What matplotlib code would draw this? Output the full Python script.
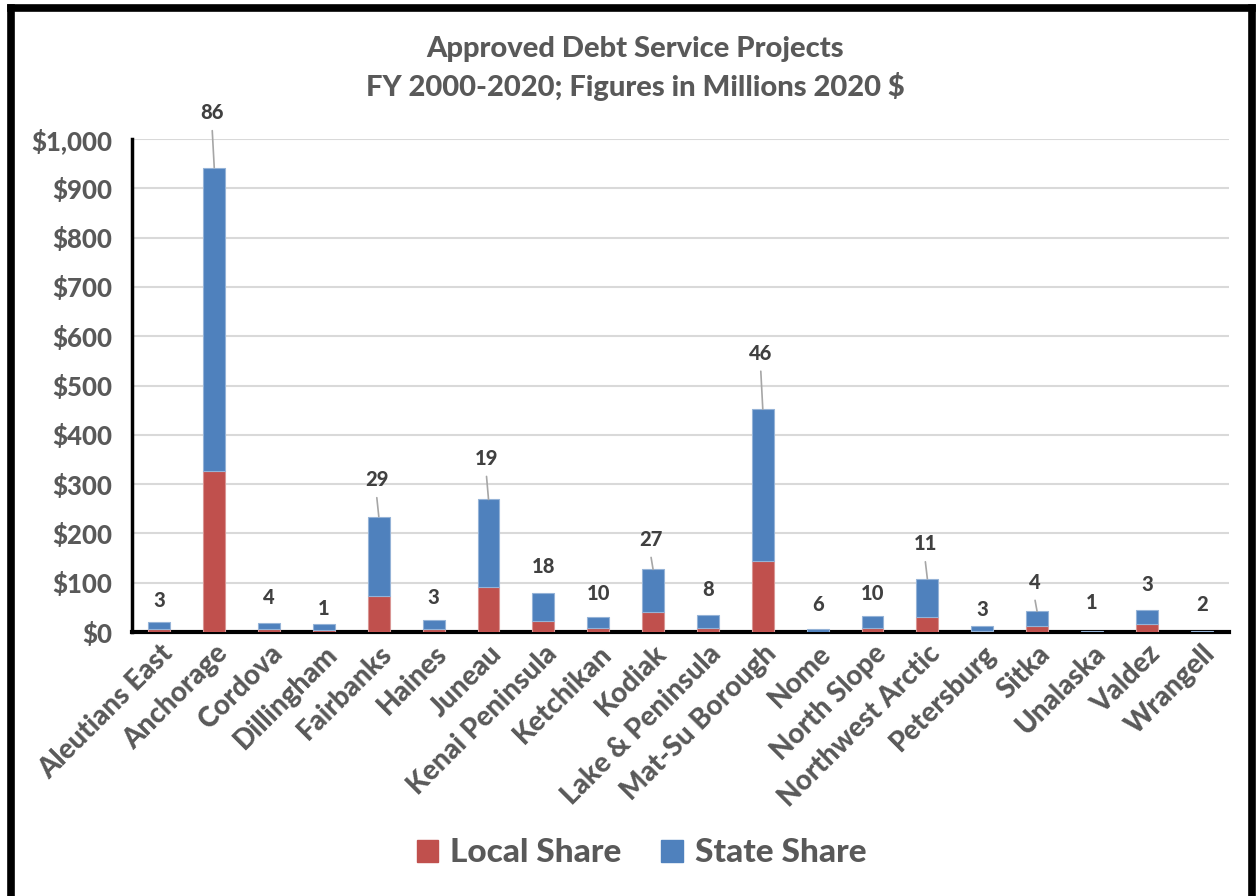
import matplotlib
matplotlib.use("Agg")
import matplotlib.pyplot as plt
from matplotlib.lines import Line2D
from matplotlib.patches import Patch

# approved debt service projects by district, millions of 2020 dollars
districts = ["Aleutians East", "Anchorage", "Cordova", "Dillingham", "Fairbanks",
             "Haines", "Juneau", "Kenai Peninsula", "Ketchikan", "Kodiak",
             "Lake & Peninsula", "Mat-Su Borough", "Nome", "North Slope",
             "Northwest Arctic", "Petersburg", "Sitka", "Unalaska", "Valdez", "Wrangell"]
local_share = [7, 326, 7, 4, 74, 6, 91, 23, 8, 40, 7.5, 144, 1, 9, 30, 3, 13, 0.5, 16, 0.5]
state_share = [13, 616, 12, 12.5, 160, 19, 178, 56, 23.5, 87, 26.5, 308, 5, 23, 78, 9, 29, 2.5, 29, 1.5]
project_counts = [3, 86, 4, 1, 29, 3, 19, 18, 10, 27, 8, 46, 6, 10, 11, 3, 4, 1, 3, 2]
y_ticks = [0, 100, 200, 300, 400, 500, 600, 700, 800, 900, 1000]

# how far each count label sits above its bar (pixels); taller lifts get a leader line
label_lift = [22, 55, 25, 15, 37, 22, 41, 27, 23, 30, 26, 56, 25, 23, 35, 17, 29, 28, 25, 27]

RED = "#C0504D"
BLUE = "#4F81BD"
GRAY = "#595959"
FONT = "Lato"

fig = plt.figure(figsize=(12.58, 8.96), dpi=100)
ax = fig.add_axes([0.1049, 0.2946, 0.8721, 0.5502])

x = list(range(len(districts)))
ax.bar(x, local_share, width=0.4, color=RED, edgecolor="#D99694", linewidth=0.8, zorder=3)
ax.bar(x, state_share, width=0.4, bottom=local_share, color=BLUE,
       edgecolor="#95B3D7", linewidth=0.8, zorder=3)

pt = 0.72  # pixels -> points at 100 dpi
for i, n in enumerate(project_counts):
    total = local_share[i] + state_share[i]
    lift = label_lift[i]
    leader = lift >= 29
    dx = -2 if leader else 0
    ax.annotate(str(n), xy=(i, total), xytext=(dx * pt, lift * pt),
                textcoords="offset points", ha="center", va="center",
                fontsize=14.5, fontweight="black", color="#404040", family=FONT)
    if leader:
        ax.annotate("", xy=(i, total), xytext=(dx * pt, (lift - 18) * pt),
                    textcoords="offset points",
                    arrowprops=dict(arrowstyle="-", color="#A6A6A6", lw=1.2,
                                    shrinkA=0, shrinkB=0))

ax.set_xlim(-0.5, len(districts) - 0.5)
ax.set_ylim(0, 1000)
ax.set_yticks(y_ticks)
ax.set_yticklabels([f"${v:,}" for v in y_ticks])
ax.set_xticks(x)
ax.set_xticklabels(districts, rotation=45, ha="right", rotation_mode="anchor")
for lab in ax.get_yticklabels():
    lab.set_fontsize(18.5)
for lab in ax.get_xticklabels():
    lab.set_fontsize(20)
for lab in ax.get_xticklabels() + ax.get_yticklabels():
    lab.set_fontfamily(FONT)
    lab.set_fontweight("black")
    lab.set_color(GRAY)
ax.tick_params(axis="y", length=0, pad=14)
ax.tick_params(axis="x", length=0, pad=6)

ax.grid(axis="y", color="#D9D9D9", lw=1.5, zorder=0)
ax.set_axisbelow(True)
for side in ["top", "right"]:
    ax.spines[side].set_visible(False)
ax.spines["left"].set_linewidth(2.5)
ax.spines["bottom"].set_linewidth(3)
ax.spines["left"].set_color("black")
ax.spines["bottom"].set_color("black")

fig.text(0.505, 0.945, "Approved Debt Service Projects", ha="center", va="center",
         fontsize=21, fontweight="black", color=GRAY, family=FONT)
fig.text(0.505, 0.903, "FY 2000-2020; Figures in Millions 2020 $", ha="center", va="center",
         fontsize=21, fontweight="black", color=GRAY, family=FONT)

handles = [Patch(color=RED, label="Local Share"), Patch(color=BLUE, label="State Share")]
fig.legend(handles=handles, loc="center", bbox_to_anchor=(0.510, 0.048), ncol=2,
           frameon=False, prop={"family": FONT, "weight": "black", "size": 24},
           labelcolor=GRAY, handlelength=0.65, handleheight=0.65, handletextpad=0.35,
           columnspacing=1.2)

# heavy black frame around the chart (bottom edge runs off the page)
frame_kw = dict(color="black", lw=5.5, transform=fig.transFigure, solid_capstyle="projecting")
fig.add_artist(Line2D([10.5 / 1258, 10.5 / 1258], [0, 1 - 8 / 896], **frame_kw))
fig.add_artist(Line2D([1251.5 / 1258, 1251.5 / 1258], [0, 1 - 8 / 896], **frame_kw))
fig.add_artist(Line2D([10.5 / 1258, 1251.5 / 1258], [1 - 8 / 896, 1 - 8 / 896], **frame_kw))

fig.savefig("out.png", dpi=100, facecolor="white")
